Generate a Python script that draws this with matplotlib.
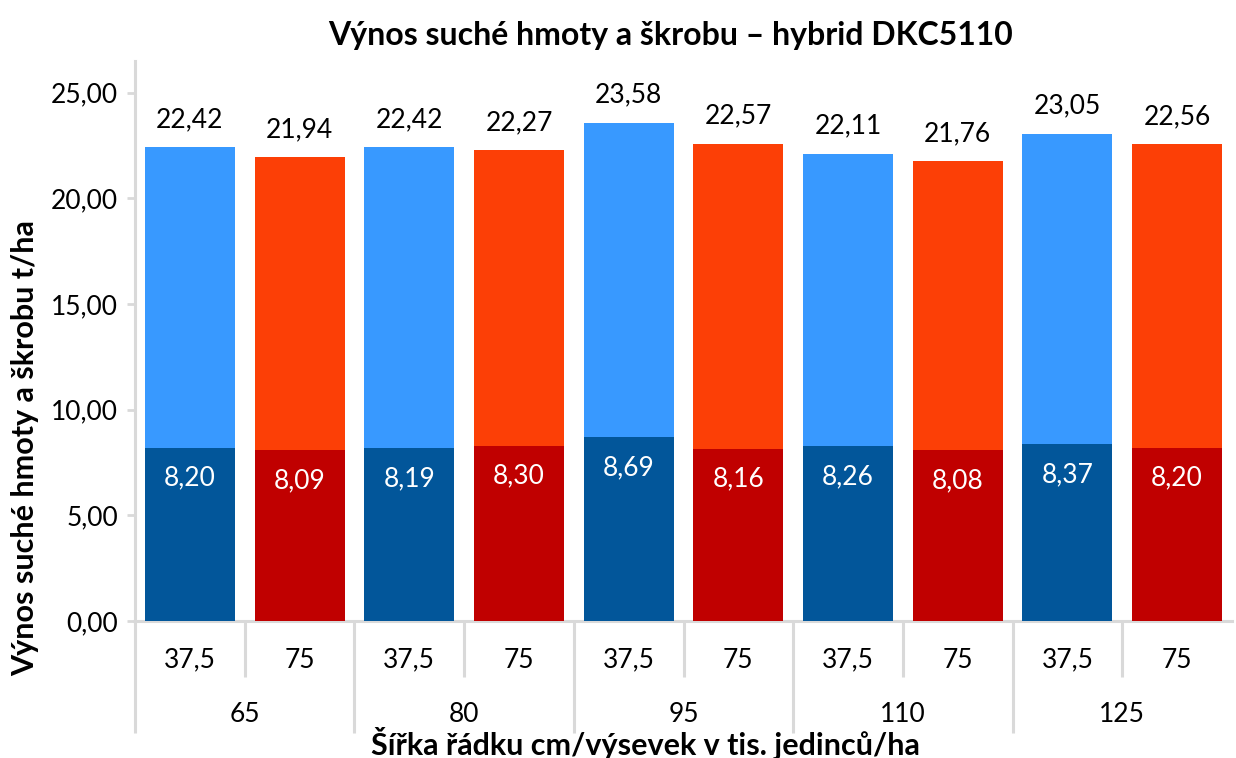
import matplotlib
matplotlib.use("Agg")
import matplotlib.pyplot as plt
import matplotlib.transforms as mtransforms
import numpy as np

# ---- data ----
groups = ["65", "80", "95", "110", "125"]
widths = ["37,5", "75"]
dry_matter = [22.42, 21.94, 22.42, 22.27, 23.58, 22.57, 22.11, 21.76, 23.05, 22.56]
starch = [8.20, 8.09, 8.19, 8.30, 8.69, 8.16, 8.26, 8.08, 8.37, 8.20]
yticks = [0, 5, 10, 15, 20, 25]

title = "Výnos suché hmoty a škrobu – hybrid DKC5110"
ylabel = "Výnos suché hmoty a škrobu t/ha"
xlabel = "Šířka řádku cm/výsevek v tis. jedinců/ha"

light_cols = ["#3899FF", "#FC3F06"]
dark_cols = ["#02569A", "#C00000"]
grid_col = "#D9D9D9"

plt.rcParams['font.family'] = ['Lato', 'DejaVu Sans']

W, H = 1236, 758
fig = plt.figure(figsize=(W / 100, H / 100), dpi=100)
ax = fig.add_axes([135 / W, (H - 621) / H, (1232 - 135) / W, (621 - 61) / H])

n = len(dry_matter)
x = np.arange(n)
lc = [light_cols[i % 2] for i in range(n)]
dc = [dark_cols[i % 2] for i in range(n)]

ax.bar(x, dry_matter, width=0.82, color=lc, zorder=2)
ax.bar(x, starch, width=0.82, color=dc, zorder=3)

fs = 19
for xi, v in zip(x, dry_matter):
    ax.annotate(f"{v:.2f}".replace(".", ","), (xi, v), xytext=(0, 20), textcoords="offset points",
                ha="center", va="center", fontsize=fs, color="black")
for xi, v in zip(x, starch):
    ax.annotate(f"{v:.2f}".replace(".", ","), (xi, v), xytext=(0, -22), textcoords="offset points",
                ha="center", va="center", fontsize=fs, color="white")

ax.set_xlim(-0.5, n - 0.5)
ax.set_ylim(0, 26.5)
ax.set_yticks(yticks)
ax.set_yticklabels([f"{t:.2f}".replace(".", ",") for t in yticks], fontsize=fs)
ax.tick_params(axis="y", length=6, width=2, color=grid_col, pad=6)
ax.set_xticks([])

for s in ["top", "right"]:
    ax.spines[s].set_visible(False)
for s in ["left", "bottom"]:
    ax.spines[s].set_color(grid_col)
    ax.spines[s].set_linewidth(2.2)

# category separators below axis
axh = 621 - 61
trans = mtransforms.blended_transform_factory(ax.transData, ax.transAxes)
for i in range(n):
    xb = i - 0.5
    depth = 112 if i % 2 == 0 else 56
    ax.plot([xb, xb], [0, -depth / axh], transform=trans, color=grid_col, lw=2.2,
            clip_on=False, solid_capstyle="butt")

# tick labels
for i in range(n):
    ax.text(i, -39 / axh, widths[i % 2], transform=trans, ha="center", va="center", fontsize=fs)
for g, name in enumerate(groups):
    ax.text(2 * g + 0.5, -94 / axh, name, transform=trans, ha="center", va="center", fontsize=fs)

fig.text(671 / W, 1 - 35 / H, title, ha="center", va="center", fontsize=23,
         fontweight="bold")
fig.text(645 / W, 1 - 743 / H, xlabel, ha="center", va="center", fontsize=22, fontweight="bold")
fig.text(25 / W, 1 - 448 / H, ylabel, ha="center", va="center", fontsize=22, fontweight="bold",
         rotation=90)

fig.savefig("out.png", dpi=100)
